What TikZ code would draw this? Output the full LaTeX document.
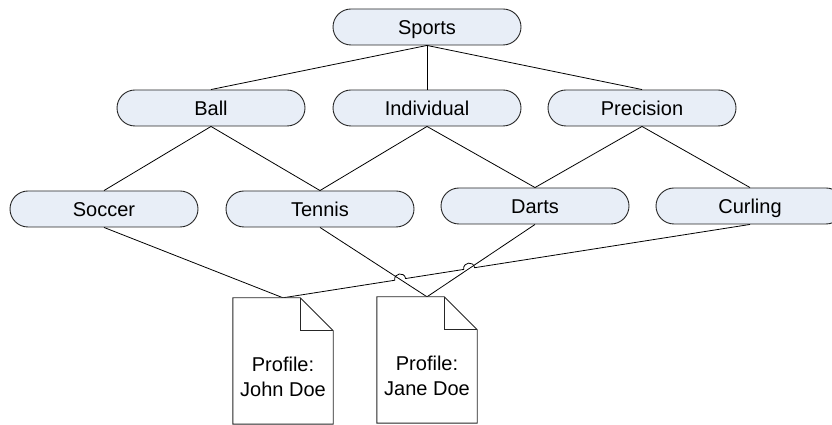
\documentclass[tikz,border=0pt]{standalone}
\usepackage{fontspec}
\setmainfont{Liberation Sans}
\usetikzlibrary{calc,intersections}
\definecolor{catfill}{RGB}{232,238,247}
\begin{document}
\begin{tikzpicture}[x=1pt,y=1pt,
  category/.style={draw=black!85, fill=catfill, line width=0.9pt,
    rounded corners=18pt, minimum width=188pt, minimum height=36pt,
    inner sep=0pt, text height=14.4pt, text depth=0pt,
    font=\fontsize{20}{24}\selectfont},
  link/.style={draw=black, line width=0.8pt},
  docbody/.style={minimum width=100pt, minimum height=126pt, inner sep=0pt},
  docline/.style={draw=black!85, fill=white, line width=0.9pt},
  doctext/.style={align=center, font=\fontsize{20}{25}\selectfont, inner sep=0pt}
]
\useasboundingbox (0,0) rectangle (832,425);
\clip (0,0) rectangle (832,425);

% category hierarchy
\node[category] (sports)     at (427,398) {Sports};
\node[category] (ball)       at (211,317) {Ball};
\node[category] (individual) at (427,317) {Individual};
\node[category] (precision)  at (642,317) {Precision};
\node[category] (soccer)     at (104,216) {Soccer};
\node[category] (tennis)     at (320,216) {Tennis};
\node[category] (darts)      at (535,219) {Darts};
\node[category] (curling)    at (750,219) {Curling};

% profile documents (outline drawn below)
\node[docbody] (john) at (283,64) {};
\node[docbody] (jane) at (427,65) {};

% hierarchy links
\draw[link] (sports.south) -- (ball.north);
\draw[link] (sports.south) -- (individual.north);
\draw[link] (sports.south) -- (precision.north);
\draw[link] (ball.south) -- (soccer.north);
\draw[link] (ball.south) -- (tennis.north);
\draw[link] (individual.south) -- (tennis.north);
\draw[link] (individual.south) -- (darts.north);
\draw[link] (precision.south) -- (darts.north);
\draw[link] (precision.south) -- (curling.north);

% profile links
\draw[link] (soccer.south) -- (john.north);
\draw[link] (tennis.south) -- (jane.north);
\draw[link] (darts.south) -- (jane.north);

% curling link with line jumps over the crossing links
\path[name path=cj] (curling.south) -- (john.north);
\path[name path=tj] (tennis.south) -- (jane.north);
\path[name path=dj] (darts.south) -- (jane.north);
\path[name intersections={of=cj and dj, by=h1}];
\path[name intersections={of=cj and tj, by=h2}];
\coordinate (h1a) at ($(h1)!5.5pt!(curling.south)$);
\coordinate (h1b) at ($(h1)!5.5pt!(john.north)$);
\coordinate (h2a) at ($(h2)!5.5pt!(curling.south)$);
\coordinate (h2b) at ($(h2)!5.5pt!(john.north)$);
\draw[link] (curling.south) -- (h1a)
  .. controls ($(h1a)!7.3pt!-90:(h1b)$) and ($(h1b)!7.3pt!90:(h1a)$) .. (h1b)
  -- (h2a)
  .. controls ($(h2a)!7.3pt!-90:(h2b)$) and ($(h2b)!7.3pt!90:(h2a)$) .. (h2b)
  -- (john.north);

% document outlines with folded corner
\foreach \d in {john,jane}{
  \draw[docline] (\d.north west) -- ($(\d.north east)+(-33,0)$)
    -- ($(\d.north east)+(0,-33)$) -- (\d.south east) -- (\d.south west) -- cycle;
  \draw[docline, fill=none] ($(\d.north east)+(-33,0)$) |- ($(\d.north east)+(0,-33)$);
}
\node[doctext] (johntext) at ($(john.south)+(0,47)$) {Profile:\\John Doe};
\node[doctext] (janetext) at ($(jane.south)+(0,47)$) {Profile:\\Jane Doe};
\end{tikzpicture}
\end{document}
